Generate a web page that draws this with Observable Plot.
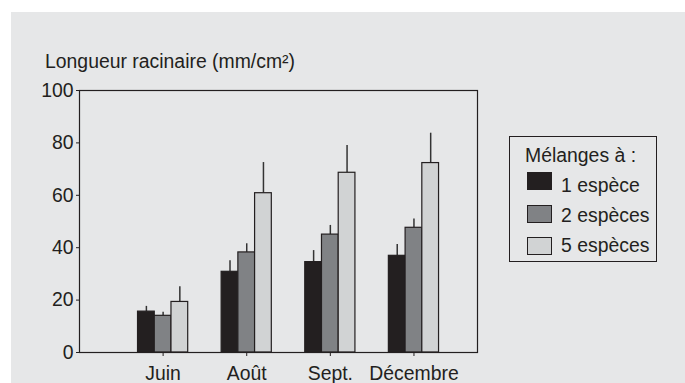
<!DOCTYPE html>
<html>
<head>
<meta charset="utf-8">
<script src="https://cdn.jsdelivr.net/npm/d3@7"></script>
<script src="https://cdn.jsdelivr.net/npm/@observablehq/plot@0.6"></script>
<style>
  html, body { margin: 0; padding: 0; background: #ffffff; }
  body { width: 685px; height: 383px; position: relative; overflow: hidden;
         font-family: "Liberation Sans", Arial, Helvetica, sans-serif; color: #231f20; }
  #panel { position: absolute; left: 11px; top: 12px; width: 674px; height: 371px; background: #e6e7e8; }
  #chart { position: absolute; left: 0; top: 0; }
  .txt { position: absolute; font-size: 19.4px; line-height: 19px; white-space: nowrap; }
  #legendBox { position: absolute; left: 509px; top: 136px; width: 146px; height: 124px; border: 1px solid #231f20; }
  .sw { position: absolute; left: 527px; width: 23px; height: 16px; border: 1px solid #231f20; }
</style>
</head>
<body>
<div id="panel"></div>
<div id="chart"></div>
<div class="txt" id="ylabel" style="left:45px; top:52px;"></div>
<div id="legendBox"></div>
<div id="legend"></div>
<script>
const months = ["Juin", "Août", "Sept.", "Décembre"];
const series = ["1 espèce", "2 espèces", "5 espèces"];
const mean1 = [15.6, 30.8, 34.5, 36.9];
const mean2 = [14.0, 38.2, 45.0, 47.6];
const mean5 = [19.3, 60.8, 68.6, 72.3];
const err1 = [2.0, 4.2, 4.4, 4.3];
const err2 = [1.4, 3.3, 3.5, 3.4];
const err5 = [5.8, 11.7, 10.4, 11.4];
const colors = ["#231f20", "#808285", "#d1d3d4"];
const yTicks = [0, 20, 40, 60, 80, 100];
const yLabel = "Longueur racinaire (mm/cm²)";
const legendTitle = "Mélanges à :";

const means = [mean1, mean2, mean5];
const errs = [err1, err2, err5];
const data = [];
series.forEach((s, si) => months.forEach((m, mi) => {
  data.push({month: m, mi, series: s, si, mean: means[si][mi], err: errs[si][mi]});
}));

const barW = 0.2;
const center = d => d.mi + 1 + (d.si - 1) * barW;
const ink = "#231f20";

const plot = Plot.plot({
  width: 685,
  height: 383,
  marginLeft: 79,
  marginRight: 208,
  marginTop: 90,
  marginBottom: 31,
  style: {background: "transparent", fontFamily: "'Liberation Sans', Arial, sans-serif", fontSize: "19.4px", color: ink},
  x: {domain: [0, 4.76]},
  y: {domain: [0, 100]},
  color: {domain: series, range: colors},
  marks: [
    Plot.ruleX(data, {x: center, y1: d => d.mean, y2: d => d.mean + d.err, stroke: "#333", strokeWidth: 1.5}),
    Plot.rectY(data, {x1: d => center(d) - barW / 2, x2: d => center(d) + barW / 2, y1: 0, y2: "mean",
      fill: "series", stroke: ink, strokeWidth: 1.2}),
    Plot.frame({stroke: ink, strokeWidth: 1.2}),
    Plot.axisY({ticks: yTicks, tickSize: 3, tickPadding: 3, label: null, stroke: ink, fill: ink, fontSize: 19.4}),
    Plot.axisX({ticks: [1, 2, 3, 4], tickFormat: d => months[d - 1], tickSize: 4, tickPadding: 10, label: null, stroke: ink, fill: ink, fontSize: 19.4})
  ]
});
document.getElementById("chart").appendChild(plot);
document.getElementById("ylabel").textContent = yLabel;

const leg = document.getElementById("legend");
const head = document.createElement("div");
head.className = "txt";
head.style.left = "525px"; head.style.top = "146px";
head.textContent = legendTitle;
leg.appendChild(head);
const swTops = [172, 205, 237];
const txtTops = [176, 206, 236];
series.forEach((s, i) => {
  const sw = document.createElement("div");
  sw.className = "sw";
  sw.style.top = swTops[i] + "px";
  sw.style.background = colors[i];
  leg.appendChild(sw);
  const t = document.createElement("div");
  t.className = "txt";
  t.style.left = "561px"; t.style.top = txtTops[i] + "px";
  t.textContent = s;
  leg.appendChild(t);
});
</script>
</body>
</html>
